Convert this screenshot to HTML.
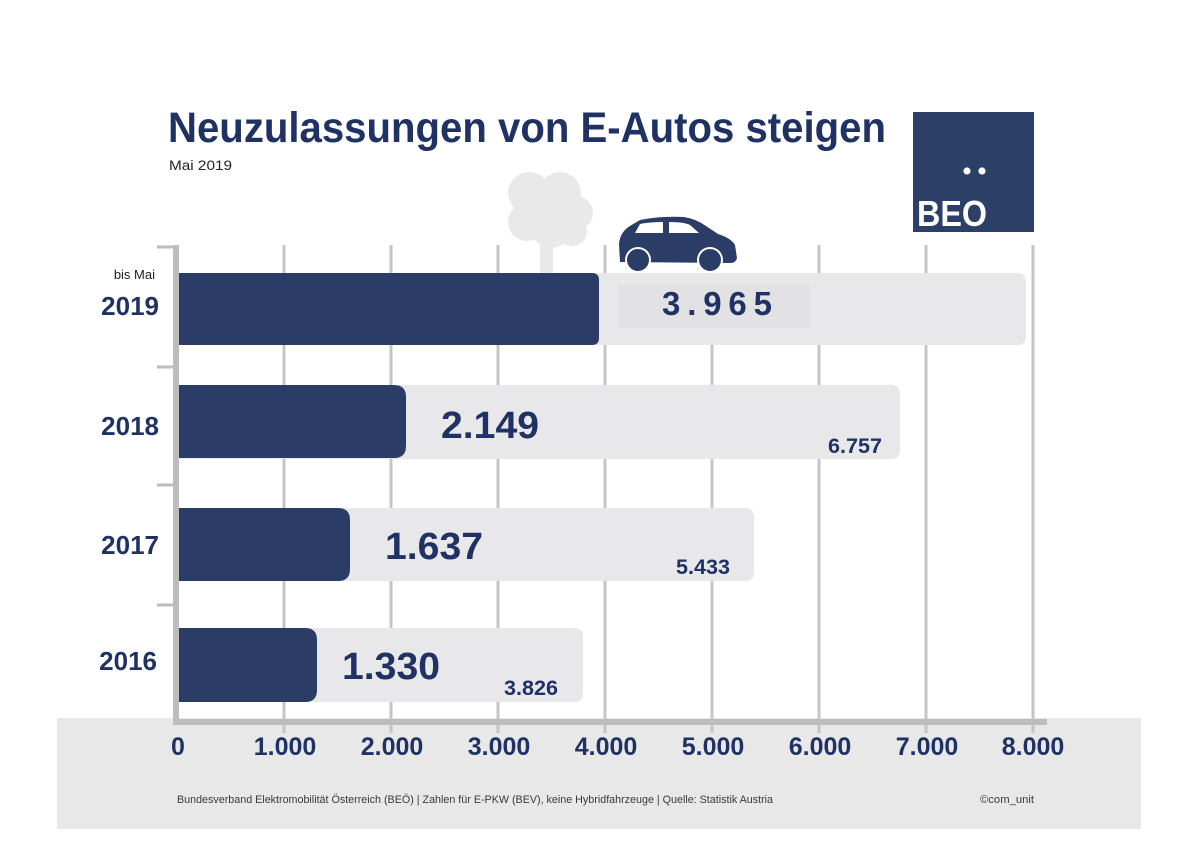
<!DOCTYPE html>
<html>
<head>
<meta charset="utf-8">
<style>
html,body{margin:0;padding:0;background:#fff;}
svg{display:block;}
text{font-family:"Liberation Sans",sans-serif;}
</style>
</head>
<body>
<svg width="1200" height="848" viewBox="0 0 1200 848" xmlns="http://www.w3.org/2000/svg">
<rect x="0" y="0" width="1200" height="848" fill="#ffffff"/>
<!-- bottom band -->
<rect x="57" y="718" width="1084" height="111" fill="#e8e8e9"/>

<!-- title -->
<text x="168" y="142" font-size="43" font-weight="bold" fill="#1f3263" textLength="718" lengthAdjust="spacingAndGlyphs">Neuzulassungen von E-Autos steigen</text>
<text x="169" y="170" font-size="14" fill="#222" textLength="63" lengthAdjust="spacingAndGlyphs">Mai 2019</text>

<!-- logo -->
<rect x="913" y="112" width="121" height="120" fill="#2b3f67"/>
<circle cx="967" cy="171" r="3.6" fill="#fff"/>
<circle cx="982" cy="171" r="3.6" fill="#fff"/>
<text x="917" y="226" font-size="36" font-weight="bold" fill="#fff" textLength="70" lengthAdjust="spacingAndGlyphs">BEO</text>

<!-- gridlines -->
<g stroke="#c5c5c5" stroke-width="3">
<line x1="284" y1="245" x2="284" y2="733"/>
<line x1="391" y1="245" x2="391" y2="733"/>
<line x1="498" y1="245" x2="498" y2="733"/>
<line x1="605" y1="245" x2="605" y2="733"/>
<line x1="712" y1="245" x2="712" y2="733"/>
<line x1="819" y1="245" x2="819" y2="733"/>
<line x1="926" y1="245" x2="926" y2="733"/>
<line x1="1033" y1="245" x2="1033" y2="733"/>
</g>

<!-- tree -->
<g fill="#e9e9ea">
<rect x="540" y="235" width="13" height="40"/>
<circle cx="529" cy="193" r="21"/>
<circle cx="560" cy="193" r="21"/>
<circle cx="576" cy="213" r="17"/>
<circle cx="527" cy="222" r="19"/>
<circle cx="551" cy="228" r="20"/>
<circle cx="545" cy="205" r="22"/>
<circle cx="572" cy="231" r="15"/>
</g>

<!-- car -->
<g>
<path d="M620,262 L619,244 Q620,232 630,226 L640,220 Q660,216 684,217 Q696,219 706,226 L718,234 Q731,238 735,245 L737,258 Q736,263 730,263 Z" fill="#2b3d66"/>
<path d="M635,233 L640,224 Q650,222 663,222 L663,233 Z" fill="#fff"/>
<path d="M669,222 Q684,222 690,225 L699,233 L669,233 Z" fill="#fff"/>
<circle cx="638" cy="260" r="12" fill="#2b3d66" stroke="#fff" stroke-width="2"/>
<circle cx="710" cy="260" r="12" fill="#2b3d66" stroke="#fff" stroke-width="2"/>
</g>

<!-- light bars -->
<g fill="#e8e8ea">
<path d="M178,273 H1017 Q1026,273 1026,282 V336 Q1026,345 1017,345 H178 Z"/>
<path d="M178,385 H891 Q900,385 900,394 V450 Q900,459 891,459 H178 Z"/>
<path d="M178,508 H745 Q754,508 754,517 V572 Q754,581 745,581 H178 Z"/>
<path d="M178,628 H574 Q583,628 583,637 V693 Q583,702 574,702 H178 Z"/>
</g>
<rect x="618" y="285" width="192" height="43" fill="#e2e2e4"/>

<!-- dark bars -->
<g fill="#2b3d66">
<path d="M178,273 H592 Q599,273 599,280 V338 Q599,345 592,345 H178 Z"/>
<path d="M178,385 H394 Q406,385 406,397 V446 Q406,458 394,458 H178 Z"/>
<path d="M178,508 H338 Q350,508 350,520 V569 Q350,581 338,581 H178 Z"/>
<path d="M178,628 H305 Q317,628 317,640 V690 Q317,702 305,702 H178 Z"/>
</g>

<!-- axes -->
<g stroke="#bdbdbd">
<line x1="176" y1="245" x2="176" y2="725" stroke-width="6"/>
<line x1="173" y1="722" x2="1047" y2="722" stroke-width="6"/>
<line x1="157" y1="247" x2="176" y2="247" stroke-width="3"/>
<line x1="157" y1="367" x2="176" y2="367" stroke-width="3"/>
<line x1="157" y1="485" x2="176" y2="485" stroke-width="3"/>
<line x1="157" y1="605" x2="176" y2="605" stroke-width="3"/>
</g>

<!-- year labels -->
<g font-weight="bold" fill="#1f3263" font-size="26" text-anchor="end">
<text x="159" y="315">2019</text>
<text x="159" y="435">2018</text>
<text x="159" y="554">2017</text>
<text x="157" y="670">2016</text>
</g>
<text x="155" y="279" font-size="13" fill="#222" text-anchor="end">bis Mai</text>

<!-- value labels -->
<g font-weight="bold" fill="#1f3263">
<text x="662" y="315" font-size="33" textLength="110" lengthAdjust="spacing">3.965</text>
<text x="441" y="438" font-size="38" textLength="98" lengthAdjust="spacingAndGlyphs">2.149</text>
<text x="385" y="559" font-size="38" textLength="98" lengthAdjust="spacingAndGlyphs">1.637</text>
<text x="342" y="679" font-size="38" textLength="98" lengthAdjust="spacingAndGlyphs">1.330</text>
<text x="828" y="453" font-size="21" textLength="54" lengthAdjust="spacingAndGlyphs">6.757</text>
<text x="676" y="574" font-size="21" textLength="54" lengthAdjust="spacingAndGlyphs">5.433</text>
<text x="504" y="695" font-size="21" textLength="54" lengthAdjust="spacingAndGlyphs">3.826</text>
</g>

<!-- x axis labels -->
<g font-weight="bold" fill="#1f3263" font-size="25" text-anchor="middle">
<text x="178" y="755">0</text>
<text x="285" y="755">1.000</text>
<text x="392" y="755">2.000</text>
<text x="499" y="755">3.000</text>
<text x="606" y="755">4.000</text>
<text x="713" y="755">5.000</text>
<text x="820" y="755">6.000</text>
<text x="927" y="755">7.000</text>
<text x="1033" y="755">8.000</text>
</g>

<!-- footer -->
<text x="177" y="803" font-size="11" fill="#3a3a3a" textLength="596" lengthAdjust="spacingAndGlyphs">Bundesverband Elektromobilität Österreich (BEÖ) | Zahlen für E-PKW (BEV), keine Hybridfahrzeuge | Quelle: Statistik Austria</text>
<text x="980" y="803" font-size="11" fill="#3a3a3a" textLength="54" lengthAdjust="spacingAndGlyphs">©com_unit</text>
</svg>
</body>
</html>
